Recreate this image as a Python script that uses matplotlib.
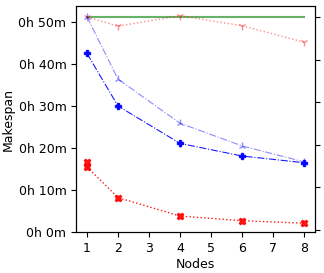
import numpy as np
import matplotlib.pyplot as plt
from matplotlib.ticker import FuncFormatter

nodes = [1, 2, 4, 6, 8]
# makespans in minutes
baseline = 51.3
red_tri = [51.2, 49.0, 51.5, 49.1, 45.2]
blue_light = [51.2, 36.4, 25.9, 20.5, 16.7]
blue_p = [42.5, 30.0, 21.1, 18.1, 16.5]
blue_p_err = [0.6, 0.6, 0.9, 0.8, 0.6]
red_x = [15.5, 8.2, 3.8, 2.7, 2.1]
red_x_extra = 16.7


def fmt(v, pos):
    h = int(v // 60)
    m = int(round(v - h * 60))
    return f"{h}h {m}m"


fig = plt.figure(figsize=(3.24, 2.73), dpi=100)
ax = fig.add_axes([0.235, 0.150, 0.737, 0.828])

ax.plot([nodes[0], nodes[-1]], [baseline, baseline], color='green', alpha=0.6, lw=1.5)
ax.plot(nodes, red_tri, ':', color='red', alpha=0.45, marker='1', ms=6, lw=1)
ax.plot(nodes, blue_light, '-.', color='blue', alpha=0.45, marker='2', ms=6, lw=0.8)
ax.errorbar(nodes, blue_p, yerr=blue_p_err, fmt='-.', color='blue', marker='P', ms=5, lw=0.8,
            elinewidth=1, alpha=0.9)
ax.plot(nodes, red_x, ':', color='red', marker='X', ms=5, lw=1, alpha=0.9)
ax.plot([nodes[0]], [red_x_extra], color='red', marker='X', ms=5, lw=0, alpha=0.9)

ax.set_ylim(0, 53.8)
ax.set_yticks([0, 10, 20, 30, 40, 50])
ax.yaxis.set_major_formatter(FuncFormatter(fmt))
ax.set_xticks(range(1, 9))
ax.set_xlabel('Nodes', fontsize=9, labelpad=2)
ax.set_ylabel('Makespan', fontsize=9, labelpad=3)
ax.tick_params(labelsize=9)

ax2 = ax.twinx()
ax2.set_ylim(0, 1)
ax2.set_yticks(np.linspace(0.009, 0.951, 6))
ax2.set_yticklabels([])

fig.savefig('out.png', dpi=100)
